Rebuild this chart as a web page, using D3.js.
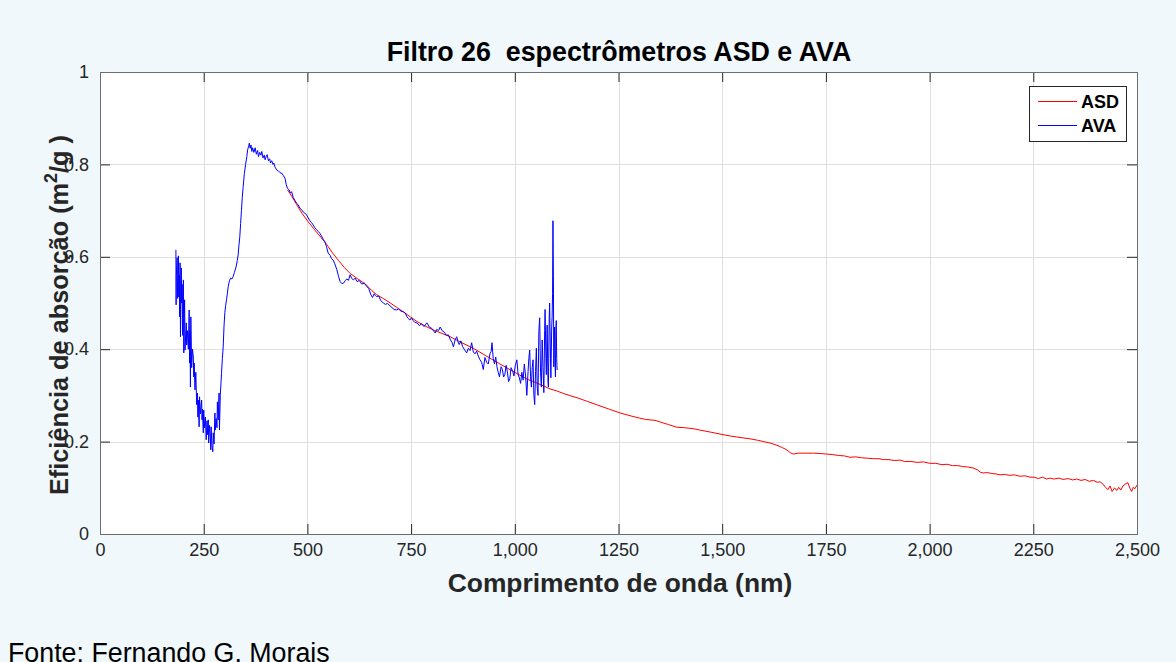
<!DOCTYPE html>
<html>
<head>
<meta charset="utf-8">
<script src="https://cdn.jsdelivr.net/npm/d3@7"></script>
<style>
  html, body { margin: 0; padding: 0; background: #f0f8fc; }
  svg { display: block; }
  text { font-family: "Liberation Sans", Arial, Helvetica, sans-serif; }
</style>
</head>
<body>
<svg id="chart" width="1176" height="662"></svg>
<script>
// Axis ticks and labels
const xTicks = [0, 250, 500, 750, 1000, 1250, 1500, 1750, 2000, 2250, 2500];
const xTickLabels = ["0", "250", "500", "750", "1,000", "1250", "1,500", "1750", "2,000", "2250", "2,500"];
const yTicks = [0, 0.2, 0.4, 0.6, 0.8, 1];
const yTickLabels = ["0", "0.2", "0.4", "0.6", "0.8", "1"];

// ASD spectrometer: [wavelength nm, absorption efficiency m2/g]
const asdSeries = [
  [452, 0.745], [463, 0.730], [474, 0.713], [487, 0.694], [501, 0.677], [515, 0.661], [530, 0.645],
  [547, 0.626], [561, 0.608], [575, 0.592], [589, 0.577], [603, 0.564], [620, 0.553], [640, 0.541],
  [655, 0.527], [667, 0.518], [684, 0.509], [700, 0.500], [716, 0.490], [731, 0.481], [748, 0.470],
  [764, 0.460], [782, 0.451], [800, 0.443], [822, 0.435], [844, 0.427], [870, 0.415], [900, 0.402],
  [930, 0.386], [964, 0.368], [990, 0.355], [1012, 0.344], [1030, 0.335], [1050, 0.328], [1068, 0.321],
  [1085, 0.314], [1100, 0.310], [1118, 0.304], [1135, 0.299], [1150, 0.295], [1175, 0.287], [1200, 0.279],
  [1228, 0.270], [1254, 0.262], [1278, 0.256], [1300, 0.251], [1315, 0.248], [1338, 0.246], [1352, 0.242],
  [1370, 0.237], [1391, 0.231], [1410, 0.230], [1430, 0.228], [1446, 0.225], [1475, 0.220], [1502, 0.215],
  [1520, 0.212], [1535, 0.210], [1550, 0.208], [1567, 0.206], [1585, 0.203], [1600, 0.200], [1615, 0.197],
  [1632, 0.192], [1645, 0.187], [1656, 0.182], [1664, 0.176], [1671, 0.173], [1683, 0.175], [1700, 0.175],
  [1720, 0.175], [1740, 0.174], [1752, 0.173], [1765, 0.172], [1780, 0.170], [1795, 0.169], [1808, 0.166],
  [1822, 0.167], [1836, 0.165], [1850, 0.164], [1865, 0.163], [1878, 0.163], [1888, 0.161], [1902, 0.161],
  [1915, 0.159], [1928, 0.160], [1940, 0.157], [1955, 0.157], [1970, 0.155], [1985, 0.156], [2001, 0.153],
  [2015, 0.153], [2030, 0.150], [2042, 0.151], [2055, 0.148], [2068, 0.148], [2080, 0.146], [2092, 0.145],
  [2105, 0.143], [2115, 0.139], [2122, 0.134], [2129, 0.132], [2138, 0.133], [2150, 0.131], [2160, 0.130],
  [2170, 0.128], [2180, 0.129], [2192, 0.127], [2205, 0.128], [2218, 0.125], [2230, 0.126], [2242, 0.123],
  [2252, 0.123], [2262, 0.120], [2272, 0.123], [2282, 0.119], [2290, 0.121], [2300, 0.119], [2312, 0.121],
  [2322, 0.118], [2334, 0.120], [2345, 0.117], [2355, 0.119], [2365, 0.116], [2375, 0.118], [2385, 0.114],
  [2395, 0.116], [2404, 0.112], [2411, 0.113], [2418, 0.108], [2424, 0.101], [2430, 0.096], [2435, 0.104],
  [2440, 0.092], [2446, 0.100], [2451, 0.094], [2456, 0.101], [2461, 0.095], [2466, 0.104], [2472, 0.108],
  [2478, 0.111], [2483, 0.099], [2487, 0.092], [2491, 0.101], [2495, 0.098], [2500, 0.106]
];

// AVA spectrometer: [wavelength nm, absorption efficiency m2/g]
const avaSeries = [
  [183, 0.615], [183.5, 0.496], [184, 0.560], [186, 0.598], [187, 0.510], [189, 0.602], [190, 0.513],
  [191, 0.560], [192, 0.470], [193, 0.587], [194, 0.427], [195, 0.520], [196, 0.576], [197, 0.500],
  [198, 0.540], [199, 0.430], [200, 0.520], [201, 0.550], [202, 0.392], [203, 0.470], [204, 0.507],
  [205, 0.398], [207, 0.440], [208, 0.457], [209, 0.409], [211, 0.440], [213, 0.400], [215, 0.485],
  [216, 0.370], [217, 0.440], [218, 0.318], [219, 0.470], [221, 0.360], [223, 0.400], [225, 0.383],
  [226, 0.340], [227, 0.370], [229, 0.312], [231, 0.350], [233, 0.280], [235, 0.305], [236, 0.253],
  [237, 0.290], [239, 0.232], [240, 0.297], [242, 0.260], [245, 0.290], [246, 0.247], [247, 0.270],
  [249, 0.219], [250, 0.268], [252, 0.230], [254, 0.253], [256, 0.204], [258, 0.245], [259, 0.215],
  [261, 0.247], [262, 0.197], [264, 0.235], [266, 0.210], [267, 0.182], [268, 0.232], [270, 0.190],
  [272, 0.178], [273, 0.219], [275, 0.195], [277, 0.262], [278, 0.225], [280, 0.250], [282, 0.230],
  [283, 0.286], [285, 0.247], [287, 0.305], [288, 0.225], [290, 0.300], [293, 0.348], [295, 0.380],
  [297, 0.405], [299, 0.450], [301, 0.479], [303, 0.495], [305, 0.507], [307, 0.520], [309, 0.535],
  [312, 0.548], [315, 0.554], [318, 0.552], [321, 0.557], [324, 0.566], [328, 0.578], [331, 0.592],
  [333, 0.604], [335, 0.625], [337, 0.643], [339, 0.672], [341, 0.700], [343, 0.728], [345, 0.750],
  [348, 0.780], [351, 0.800], [354, 0.817], [356, 0.832], [358, 0.838], [360, 0.846], [362, 0.835],
  [364, 0.842], [366, 0.828], [368, 0.836], [371, 0.826], [374, 0.836], [377, 0.822], [380, 0.830],
  [382, 0.817], [385, 0.826], [388, 0.820], [390, 0.828], [393, 0.814], [396, 0.820], [398, 0.810],
  [401, 0.818], [403, 0.821], [406, 0.808], [409, 0.812], [411, 0.803], [414, 0.808], [417, 0.800],
  [419, 0.803], [422, 0.794], [426, 0.788], [430, 0.786], [434, 0.782], [438, 0.781], [442, 0.776],
  [446, 0.770], [449, 0.756], [452, 0.748], [456, 0.745], [459, 0.738], [462, 0.741], [466, 0.728],
  [470, 0.722], [474, 0.716], [478, 0.712], [482, 0.705], [486, 0.702], [490, 0.697], [494, 0.694],
  [498, 0.691], [502, 0.684], [506, 0.678], [510, 0.674], [514, 0.669], [518, 0.663], [522, 0.659],
  [526, 0.655], [530, 0.651], [534, 0.645], [538, 0.638], [542, 0.633], [546, 0.622], [550, 0.608],
  [555, 0.603], [558, 0.596], [562, 0.593], [566, 0.585], [571, 0.572], [575, 0.558], [579, 0.546],
  [583, 0.542], [587, 0.543], [591, 0.548], [595, 0.552], [599, 0.549], [603, 0.561], [607, 0.553],
  [611, 0.550], [615, 0.554], [620, 0.546], [625, 0.549], [631, 0.541], [637, 0.543], [643, 0.536],
  [648, 0.531], [653, 0.518], [657, 0.512], [661, 0.520], [664, 0.516], [667, 0.514], [672, 0.515],
  [677, 0.505], [683, 0.500], [688, 0.497], [693, 0.499], [699, 0.494], [704, 0.490], [709, 0.486],
  [715, 0.485], [720, 0.487], [726, 0.482], [731, 0.481], [736, 0.478], [740, 0.470], [743, 0.467],
  [747, 0.463], [751, 0.468], [755, 0.462], [759, 0.458], [764, 0.457], [770, 0.451], [775, 0.455],
  [781, 0.449], [788, 0.457], [794, 0.448], [800, 0.445], [804, 0.440], [808, 0.435], [812, 0.443],
  [816, 0.440], [820, 0.448], [825, 0.440], [830, 0.437], [835, 0.430], [840, 0.431], [845, 0.420],
  [849, 0.414], [852, 0.405], [856, 0.420], [860, 0.427], [863, 0.416], [866, 0.410], [870, 0.418],
  [874, 0.406], [878, 0.400], [881, 0.396], [884, 0.392], [888, 0.402], [892, 0.397], [896, 0.414],
  [900, 0.394], [904, 0.390], [908, 0.396], [912, 0.385], [916, 0.377], [920, 0.372], [924, 0.356],
  [928, 0.382], [932, 0.372], [936, 0.368], [940, 0.390], [943, 0.395], [945, 0.414], [948, 0.380],
  [951, 0.368], [954, 0.383], [957, 0.362], [960, 0.350], [963, 0.340], [967, 0.362], [970, 0.356],
  [973, 0.340], [976, 0.345], [979, 0.365], [982, 0.352], [985, 0.330], [988, 0.336], [991, 0.360],
  [995, 0.352], [998, 0.342], [1001, 0.364], [1005, 0.377], [1008, 0.345], [1011, 0.338], [1014, 0.326],
  [1017, 0.350], [1020, 0.333], [1023, 0.368], [1026, 0.342], [1029, 0.300], [1032, 0.352], [1034, 0.382],
  [1036, 0.398], [1038, 0.340], [1040, 0.318], [1042, 0.360], [1044, 0.377], [1046, 0.300], [1048, 0.280],
  [1050, 0.352], [1052, 0.402], [1054, 0.318], [1056, 0.300], [1058, 0.438], [1060, 0.468], [1062, 0.350],
  [1064, 0.318], [1066, 0.420], [1068, 0.360], [1070, 0.306], [1072, 0.440], [1073, 0.486], [1075, 0.380],
  [1076, 0.345], [1078, 0.452], [1080, 0.330], [1081, 0.318], [1083, 0.470], [1084, 0.500], [1086, 0.380],
  [1087, 0.338], [1089, 0.448], [1090, 0.470], [1091, 0.520], [1092, 0.678], [1093, 0.560], [1094, 0.362],
  [1095, 0.420], [1096, 0.448], [1097, 0.370], [1098, 0.340], [1099, 0.440], [1100, 0.462], [1101, 0.380],
  [1102, 0.355]
];

const legendItems = [
  { name: "ASD", color: "#ff0000" },
  { name: "AVA", color: "#0000ff" }
];

const svg = d3.select("#chart");
const plotLeft = 100, plotRight = 1137, plotTop = 72, plotBottom = 534;

const x = d3.scaleLinear().domain([0, 2500]).range([plotLeft, plotRight]);
const y = d3.scaleLinear().domain([0, 1]).range([plotBottom, plotTop]);

// plot area
svg.append("rect")
  .attr("x", plotLeft).attr("y", plotTop)
  .attr("width", plotRight - plotLeft).attr("height", plotBottom - plotTop)
  .attr("fill", "#ffffff");

// grid
const grid = svg.append("g").attr("stroke", "#dfdfdf").attr("stroke-width", 1);
grid.selectAll("line.gx").data(xTicks.slice(1, -1)).join("line")
  .attr("x1", d => Math.round(x(d)) + 0.5).attr("x2", d => Math.round(x(d)) + 0.5)
  .attr("y1", plotTop).attr("y2", plotBottom);
grid.selectAll("line.gy").data(yTicks.slice(1, -1)).join("line")
  .attr("y1", d => Math.round(y(d)) + 0.5).attr("y2", d => Math.round(y(d)) + 0.5)
  .attr("x1", plotLeft).attr("x2", plotRight);

// series
const line = d3.line().x(d => x(d[0])).y(d => y(d[1]));
svg.append("path").datum(asdSeries)
  .attr("fill", "none").attr("stroke", legendItems[0].color).attr("stroke-width", 1)
  .attr("stroke-linejoin", "round").attr("d", line);
svg.append("path").datum(avaSeries)
  .attr("fill", "none").attr("stroke", legendItems[1].color).attr("stroke-width", 1)
  .attr("stroke-linejoin", "round").attr("d", line);

// axes with inward ticks
const axisColor = "#262626";
const fmtX = d => xTickLabels[xTicks.indexOf(d)];
const fmtY = d => yTickLabels[yTicks.indexOf(d)];

const gx = svg.append("g").attr("transform", `translate(0,${plotBottom})`)
  .call(d3.axisBottom(x).tickValues(xTicks).tickFormat(fmtX).tickSize(-10).tickPadding(9));
const gy = svg.append("g").attr("transform", `translate(${plotLeft},0)`)
  .call(d3.axisLeft(y).tickValues(yTicks).tickFormat(fmtY).tickSize(-10).tickPadding(11));
const gxTop = svg.append("g").attr("transform", `translate(0,${plotTop})`)
  .call(d3.axisTop(x).tickValues(xTicks).tickFormat("").tickSize(-10));
const gyRight = svg.append("g").attr("transform", `translate(${plotRight},0)`)
  .call(d3.axisRight(y).tickValues(yTicks).tickFormat("").tickSize(-10));

[gx, gy, gxTop, gyRight].forEach(g => {
  g.select(".domain").remove();
  g.selectAll(".tick line").attr("stroke", axisColor);
  g.selectAll(".tick text").attr("fill", axisColor)
    .style("font-family", "'Liberation Sans', Arial, sans-serif").style("font-size", "18px");
});

svg.append("rect")
  .attr("x", plotLeft + 0.5).attr("y", plotTop + 0.5)
  .attr("width", plotRight - plotLeft).attr("height", plotBottom - plotTop)
  .attr("fill", "none").attr("stroke", "#6e6e6e").attr("stroke-width", 1);

// title and axis labels
svg.append("text")
  .attr("x", 619).attr("y", 61).attr("text-anchor", "middle")
  .style("white-space", "pre")
  .attr("font-size", 26.8).attr("font-weight", "bold").attr("fill", "#000")
  .text("Filtro 26  espectrômetros ASD e AVA");

svg.append("text")
  .attr("x", 620).attr("y", 592).attr("text-anchor", "middle")
  .attr("font-size", 26.4).attr("font-weight", "bold").attr("fill", axisColor)
  .text("Comprimento de onda (nm)");

const yl = svg.append("text")
  .attr("transform", "translate(68,315) rotate(-90)")
  .attr("text-anchor", "middle")
  .attr("font-size", 25.3).attr("font-weight", "bold").attr("fill", axisColor);
yl.append("tspan").text("Eficiência de absorção (m");
yl.append("tspan").attr("font-size", 18).attr("dy", -11).text("2");
yl.append("tspan").attr("dy", 11).text("/g )");

// legend
const lg = svg.append("g");
lg.append("rect")
  .attr("x", 1029.5).attr("y", 86.5).attr("width", 97).attr("height", 55)
  .attr("fill", "#ffffff").attr("stroke", axisColor).attr("stroke-width", 1);
legendItems.forEach((d, i) => {
  const cy = 101 + i * 24;
  lg.append("line").attr("x1", 1038).attr("x2", 1077).attr("y1", cy + 0.5).attr("y2", cy + 0.5)
    .attr("stroke", d.color).attr("stroke-width", 1);
  lg.append("text").attr("x", 1081).attr("y", cy + 7)
    .attr("font-size", 18).attr("font-weight", "bold").attr("fill", "#000").text(d.name);
});

// source note
svg.append("text")
  .attr("x", 8).attr("y", 662)
  .attr("font-size", 26.8).attr("fill", "#000")
  .text("Fonte: Fernando G. Morais");
</script>
</body>
</html>
